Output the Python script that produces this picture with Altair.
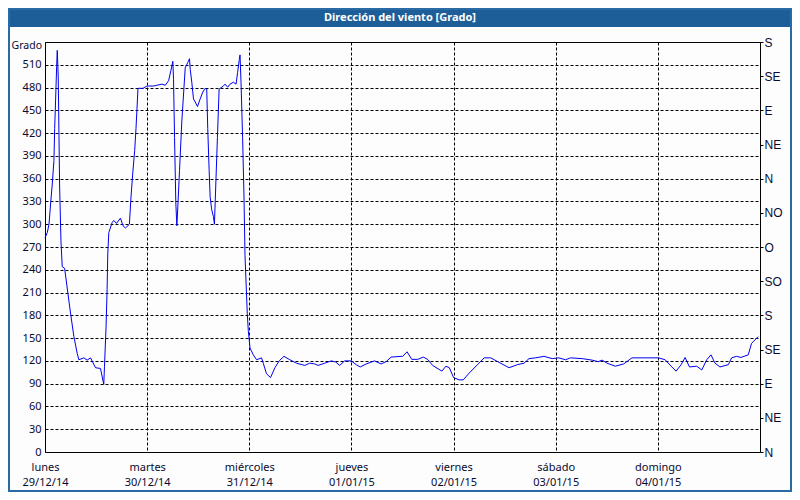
import altair as alt
import pandas as pd

# Hours since 29/12/14 00:00 and wind direction in degrees
hours = [0, 0.54, 0.94, 1.33, 1.71, 2.1, 2.27, 2.5, 2.74, 2.88, 3.11, 3.44, 3.75, 4.05, 4.61,
         5.22, 6.02, 6.79, 7.56, 7.96, 9.13, 9.9, 10.7, 11.87, 13.04, 13.81, 13.98, 14.35,
         14.59, 14.75, 14.99, 15.76, 16.16, 16.79, 17.73, 18.33, 18.9, 19.83, 20.21, 20.6,
         21.07, 21.38, 21.61, 21.85, 23.02, 23.95, 25.52, 26.3, 27.47, 28.26, 29.04, 29.57,
         30.04, 30.2, 30.44, 30.74, 30.98, 31.21, 31.61, 32.15, 32.95, 33.55, 33.95, 34.12,
         34.49, 34.89, 35.29, 35.83, 36.46, 37.07, 37.63, 38.0, 38.24, 38.57, 38.8, 39.17,
         39.57, 39.81, 40.11, 40.51, 40.91, 41.91, 42.31, 42.92, 43.48, 44.26, 44.89, 45.26,
         45.66, 45.82, 46.06, 46.43, 46.76, 46.99, 47.53, 47.77, 48.17, 48.94, 49.71, 50.88,
         51.28, 52.05, 52.99, 54.02, 55.03, 56.13, 57.53, 59.08, 61.04, 62.21, 63.39, 64.16,
         65.73, 67.27, 68.3, 69.24, 70.41, 71.95, 73.13, 74.06, 75.47, 77.43, 78.98, 80.15,
         81.32, 83.66, 84.06, 85.07, 86.17, 87.57, 88.91, 89.91, 91.08, 93.26, 94.2, 95.0,
         96.0, 97.33, 98.27, 99.67, 101.62, 103.19, 104.74, 106.7, 109.04, 110.99, 112.56,
         113.73, 115.27, 117.24, 119.18, 120.75, 122.3, 123.47, 126.21, 128.55, 129.96,
         130.89, 132.06, 134.0, 135.97, 137.91, 141.03, 144.17, 145.71, 147.12, 148.29,
         149.46, 150.4, 151.43, 153.14, 154.31, 155.48, 156.49, 157.42, 158.59, 160.56,
         161.33, 162.5, 163.51, 165.24, 166.01, 167.58]
direction = [282, 289, 300, 328, 353, 384, 426, 465, 508, 529, 494, 349, 278, 244, 242,
             216, 182, 152, 130, 121.5, 124, 121, 124, 111, 110, 89, 113, 165,
             214, 261, 289, 302, 305, 301, 308, 298, 295, 300, 336, 366,
             397, 426, 452, 479, 479, 482, 482, 483, 484.5, 483, 489, 502,
             514.6, 491, 414, 328, 298, 323, 371, 436, 506, 513, 518, 504,
             487, 465, 461, 455, 465, 474, 479, 478, 426, 371, 336, 319,
             310, 300, 349, 414, 478, 482, 484.5, 480.5, 484.5, 487, 484.5, 500,
             517, 523, 487, 414, 336, 259, 182, 160, 137, 128, 121.5, 124,
             117, 103, 98, 111, 120, 126, 121.5, 117, 114, 117, 116, 114,
             117, 120, 118.5, 114, 120, 120, 115, 112, 116, 120, 116, 119,
             125, 126, 126, 132, 122, 122, 125, 122, 114, 106.5, 113, 111,
             98, 95, 95, 104, 115, 124, 124, 118, 111, 115, 117,
             123, 124, 126, 123, 124, 121.5, 124, 123, 121, 119,
             121, 117, 113, 116, 124, 124, 124, 121.5, 113, 106.5,
             115, 124.5, 112, 113, 108, 121.5, 128, 117, 112, 115,
             124, 126, 124.5, 128, 143, 152]

day_names = ["lunes", "martes", "miércoles", "jueves", "viernes", "sábado", "domingo"]
day_dates = ["29/12/14", "30/12/14", "31/12/14", "01/01/15", "02/01/15", "03/01/15", "04/01/15"]
compass = ["N", "NE", "E", "SE", "S", "SO", "O", "NO"]
title_text = "Dirección del viento [Grado]"
unit_text = "Grado"

df = pd.DataFrame({"h": hours, "deg": direction})

W, H = 715, 410
PL, PT, PR, PB = 37, 34, 32, 40
FONT = "Noto Sans"
TXT = "#0a0a30"

names_js = "[" + ",".join(f"'{n}'" for n in day_names) + "]"
dates_js = "[" + ",".join(f"'{d}'" for d in day_dates) + "]"
comp_js = "[" + ",".join(f"'{c}'" for c in compass) + "]"

x_enc = alt.X("h:Q", scale=alt.Scale(domain=[0, 168], nice=False, zero=False),
              axis=alt.Axis(values=[0, 24, 48, 72, 96, 120, 144, 168], title=None,
                            ticks=False, domain=False, grid=True, gridColor="black",
                            gridDash=[3, 2], gridWidth=1, labelFlush=False,
                            labelOverlap=False, labelFont=FONT, labelFontSize=11,
                            labelColor=TXT, labelPadding=9, labelLineHeight=15,
                            labelExpr=f"datum.value < 168 ? [{names_js}[datum.value/24], {dates_js}[datum.value/24]] : ''"))

left_axis = alt.Axis(values=list(range(0, 511, 30)), title=None, ticks=False, domain=False,
                     grid=True, gridColor="black", gridDash=[3, 2], gridWidth=1,
                     labelFont=FONT, labelFontSize=11, labelColor=TXT, labelPadding=4,
                     labelFlush=False, labelOverlap=False)

right_axis = alt.Axis(orient="right", values=list(range(0, 541, 45)), title=None,
                      ticks=True, tickSize=3, tickColor="black", domain=False, grid=False,
                      labelFont="Liberation Sans", labelFontSize=12, labelColor=TXT,
                      labelPadding=1, labelFlush=False, labelOverlap=False,
                      labelExpr=f"{comp_js}[(datum.value/45) % 8]")

line = alt.Chart(df).mark_line(color="#0000f0", strokeWidth=1).encode(
    x=x_enc,
    y=alt.Y("deg:Q", scale=alt.Scale(domain=[0, 540], nice=False, zero=True), axis=left_axis),
)
line_r = alt.Chart(df).mark_line(opacity=0).encode(
    x="h:Q",
    y=alt.Y("deg:Q", scale=alt.Scale(domain=[0, 540], nice=False, zero=True), axis=right_axis),
)

one = pd.DataFrame({"t": [title_text], "u": [unit_text]})
bar = alt.Chart(one).mark_rect(color="#1e5e98").encode(
    x=alt.value(-PL), x2=alt.value(W + PR), y=alt.value(-PT), y2=alt.value(-PT + 19))
bar_text = alt.Chart(one).mark_text(color="white", font=FONT, fontSize=11, fontWeight="bold",
                                    baseline="middle", align="center").encode(
    text="t:N", x=alt.value((W + PR - PL) / 2), y=alt.value(-PT + 9.5))
unit = alt.Chart(one).mark_text(color=TXT, font=FONT, fontSize=10.5, baseline="middle",
                                align="right").encode(
    text="u:N", x=alt.value(-3), y=alt.value(4))
border = alt.Chart(one).mark_rect(filled=False, stroke="#2a6aa5", strokeWidth=2).encode(
    x=alt.value(-PL + 1), x2=alt.value(W + PR - 1), y=alt.value(-PT + 1), y2=alt.value(H + PB - 1))

chart = alt.layer(line, line_r, bar, bar_text, unit, border).resolve_scale(y="independent").properties(
    width=W, height=H,
    autosize=alt.AutoSizeParams(type="none"),
    padding={"left": PL, "top": PT, "right": PR, "bottom": PB},
    background="#fcfdfc",
).configure_view(stroke="black", strokeWidth=1)

chart.save("out.html", embed_options={"renderer": "svg", "actions": False})
